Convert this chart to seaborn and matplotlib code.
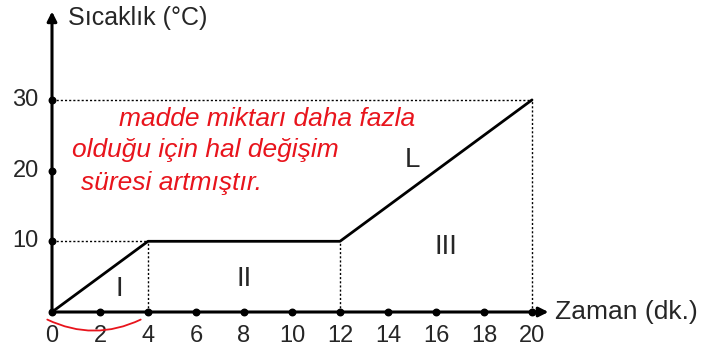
import matplotlib
matplotlib.use("Agg")
import matplotlib.pyplot as plt
import seaborn as sns
import pandas as pd

# Data
time_min = [0, 4, 12, 20]
temp_c = [0, 10, 10, 30]
x_ticks = [0, 2, 4, 6, 8, 10, 12, 14, 16, 18, 20]
y_ticks = [10, 20, 30]
regions = ["I", "II", "III"]
region_x = [2.8, 8.0, 16.4]
region_y = [3.2, 4.6, 9.2]
curve_label = "L"
note_lines = ["madde miktarı daha fazla", "olduğu için hal değişim", "süresi artmıştır."]

sns.set_theme(style="white")
plt.rcParams['font.family'] = ['Liberation Sans', 'DejaVu Sans']

fig = plt.figure(figsize=(7.18, 3.54), dpi=100)
ax = fig.add_axes([0, 0, 1, 1])
ax.set_xlim(-52/24, (718-52)/24)
ax.set_ylim(-42/7.07, 312/7.07)
ax.axis("off")

df = pd.DataFrame({"t": time_min, "T": temp_c})
sns.lineplot(data=df, x="t", y="T", ax=ax, color="black", lw=2, zorder=3)

# dotted guides
dot = dict(color="black", lw=1, ls=(0, (1.5, 1.5)))
ax.plot([0, time_min[1]], [temp_c[1], temp_c[1]], **dot)
ax.plot([0, time_min[3]], [temp_c[3], temp_c[3]], **dot)
for xi, yi in zip(time_min[1:], temp_c[1:]):
    ax.plot([xi, xi], [0, yi], **dot)

# axes with arrows
ax.annotate("", xy=(20.8, 0), xytext=(0, 0),
            arrowprops=dict(arrowstyle="-|>", color="black", lw=2.2, mutation_scale=14))
ax.annotate("", xy=(0, 42.9), xytext=(0, 0),
            arrowprops=dict(arrowstyle="-|>", color="black", lw=2.2, mutation_scale=14))

# tick dots and labels
ax.scatter(x_ticks, [0]*len(x_ticks), s=22, color="black", zorder=4)
ax.scatter([0]*len(y_ticks), y_ticks, s=22, color="black", zorder=4)
for xt in x_ticks:
    ax.text(xt, -1.9, str(xt), ha="center", va="top", fontsize=17)
for yt in y_ticks:
    ax.text(-0.55, yt, str(yt), ha="right", va="center", fontsize=17)

ax.text(0.65, 41.6, "Sıcaklık (°C)", ha="left", va="center", fontsize=18)
ax.text(20.95, 0, "Zaman (dk.)", ha="left", va="center", fontsize=19)

for lab, rx, ry in zip(regions, region_x, region_y):
    ax.text(rx, ry, lab, ha="center", va="center", fontsize=20)
ax.text(15.0, 21.5, curve_label, ha="center", va="center", fontsize=20)

# handwritten note
red = "#e8141c"
note_kw = dict(color=red, fontsize=19, style="italic", ha="left", va="center")
ax.text(2.8, 27.3, note_lines[0], **note_kw)
ax.text(0.85, 22.9, note_lines[1], **note_kw)
ax.text(1.2, 18.2, note_lines[2], **note_kw)
ax.annotate("", xy=(3.8, -0.9), xytext=(-0.3, -0.9),
            arrowprops=dict(arrowstyle="-", color=red, lw=1.3,
                            connectionstyle="arc3,rad=0.25"))

fig.savefig("out.png", dpi=100)
